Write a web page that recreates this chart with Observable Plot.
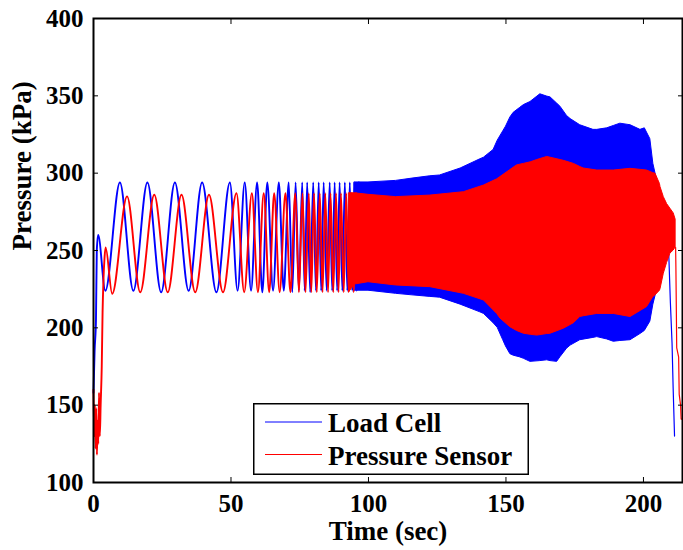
<!DOCTYPE html>
<html><head><meta charset="utf-8">
<script src="https://cdn.jsdelivr.net/npm/d3@7"></script>
<script src="https://cdn.jsdelivr.net/npm/@observablehq/plot@0.6"></script>
<style>
body{margin:0;background:#fff;}
#chart{position:relative;width:683px;height:550px;}
#legend{position:absolute;left:253px;top:403px;}
</style></head><body><div id="chart"></div>
<script>
// ---- Series names & colours ----
const seriesNames = ["Load Cell", "Pressure Sensor"];
const seriesColors = ["#0000ff", "#ff0000"];

// ---- Load Cell (blue): resolvable oscillation extrema (time s, kPa) ----
const blueTimes = [0, 0.4, 0.9, 1.2, 1.7, 4.3, 9.6, 14.5, 19.6, 24.6, 29.6, 34.6, 39.5, 44.7, 49.6, 52.4, 55.0, 57.3, 59.5, 61.4, 63.2, 65.3, 67.4, 69.2, 71.0, 72.3, 73.5, 74.7, 75.9, 76.8, 77.7, 78.8, 79.9, 80.9, 81.9, 82.8, 83.7, 84.8, 85.9, 86.8, 87.7, 88.6, 89.5, 90.5, 91.4, 92.3, 93.2, 94.1, 94.9, 95.7, 96.5];
const blueValues = [158, 185, 205, 250, 260, 224, 294, 224, 294, 223, 294, 224, 294, 223, 294, 224, 294, 224, 294, 223, 294, 224, 294, 224, 294, 223, 294, 224, 294, 224, 294, 223, 294, 224, 294, 224, 294, 224, 294, 224, 294, 224, 294, 224, 294, 224, 294, 224, 294, 224, 294];

// ---- Load Cell (blue): dense-oscillation envelope ----
const blueBandTimes = [95, 100, 110, 116, 122.5, 126, 133.5, 140.7, 142, 145.5, 147, 149, 150, 151.6, 152.8, 155, 156.5, 158.9, 162.5, 165, 166.2, 168.6, 169.8, 172.2, 173.5, 177, 181.8, 183.2, 186.8, 189.2, 191.6, 195.3, 198.9, 200.5, 202.5, 203.6, 205, 207, 209];
const blueBandUpper = [294, 294, 295, 296.5, 298, 298.5, 303, 309, 310, 315, 321, 327, 330, 336, 339, 342, 344, 346, 351, 349.5, 349, 345, 343, 337, 335, 331, 328, 328, 329, 330.5, 332, 331, 328, 329, 322, 306, 295, 280, 255];
const blueBandLower = [224, 224, 222, 221, 220, 219.5, 215, 210, 209, 203, 200, 192, 188, 183, 182, 181, 180, 178, 178.5, 179, 178.5, 178, 181, 186.5, 188.5, 192, 193.5, 194, 192.5, 191, 191.5, 192, 196, 198, 204, 215, 225, 238, 250];

// ---- Load Cell (blue): final drop ----
const blueTailTimes = [209, 209.2, 209.8, 210.4, 210.8, 211.3];
const blueTailValues = [252, 248, 216, 190, 161, 130];

// ---- Pressure Sensor (red): resolvable oscillation extrema ----
const redTimes = [0, 0.25, 0.5, 0.75, 1.0, 1.25, 1.5, 1.75, 2.0, 2.3, 2.6, 3.0, 3.3, 3.6, 4.0, 4.4, 6.8, 12.2, 17.0, 22.1, 27.0, 32.0, 37.0, 42.0, 47.1, 52.0, 54.8, 57.6, 59.8, 61.9, 63.9, 65.7, 67.7, 69.8, 71.6, 73.4, 74.7, 76.0, 77.1, 78.3, 79.2, 80.2, 81.2, 82.3, 83.3, 84.3, 85.3, 86.2, 87.2, 88.2, 89.1, 90.0, 91.0, 91.9, 92.8, 93.7, 94.6, 95.5];
const redValues = [160, 130, 150, 122, 148, 118, 140, 125, 158, 130, 150, 175, 210, 230, 245, 252, 222, 285, 223, 286, 223, 286, 223, 286, 223, 287, 223, 287, 223, 287, 223, 287, 223, 287, 223, 287, 223, 287, 223, 287, 223, 287, 223, 287, 223, 287, 223, 287, 223, 287, 223, 287, 223, 287, 223, 287, 223, 287];

// ---- Pressure Sensor (red): dense-oscillation envelope ----
const redBandTimes = [93, 95, 100, 110, 122.5, 134.7, 142, 146.8, 148, 151.6, 154, 156.5, 159, 161.4, 165, 166.2, 171, 174.7, 177, 178.3, 183.2, 189.2, 195.3, 201.3, 203.6, 204.4, 206, 206.2, 207.4, 208.6, 209.8, 211, 211.7];
const redBandUpper = [287, 287, 286, 284.5, 285.5, 287.7, 292, 296, 297.5, 302, 305, 306, 307, 308.5, 310.5, 310, 308, 306, 304, 303, 301.7, 301.7, 302.8, 301.7, 300, 299.6, 293, 291, 284.5, 280, 277, 274, 270];
const redBandLower = [223, 228, 229.5, 227.4, 226.3, 222, 217.7, 209, 206, 200.4, 198, 196.2, 195.5, 195, 196, 196.2, 199.4, 203, 207, 207.5, 209, 209, 207, 213.4, 220, 221, 224, 225, 235, 242, 248, 250, 252];

// ---- Pressure Sensor (red): final drop ----
const redTailTimes = [211.7, 211.8, 212.1, 212.8, 213.0, 213.5, 213.7, 214.2];
const redTailValues = [252, 239, 187, 181, 157, 150, 141, 141];

// ---- Axes ----
const xTicks = [0, 50, 100, 150, 200];
const yTicks = [100, 150, 200, 250, 300, 350, 400];
const xLabel = "Time (sec)";
const yLabel = "Pressure (kPa)";

const pts = (ts, vs) => ts.map((t, i) => ({t, v: vs[i]}));
const band = (ts, hi, lo) => ts.map((t, i) => ({t, hi: hi[i], lo: lo[i]}));

const blue = pts(blueTimes, blueValues);
const blueTail = pts(blueTailTimes, blueTailValues);
const blueBand = band(blueBandTimes, blueBandUpper, blueBandLower);
const red = pts(redTimes, redValues);
const redTail = pts(redTailTimes, redTailValues);
const redBand = band(redBandTimes, redBandUpper, redBandLower);

const font = "'Liberation Serif','Times New Roman',serif";

const plot = Plot.plot({
  width: 683, height: 550,
  marginLeft: 93, marginRight: 1, marginTop: 18, marginBottom: 68,
  style: {fontFamily: font, fontWeight: "bold", background: "#fff", color: "#000"},
  x: {domain: [0, 214.2]},
  y: {domain: [100, 400]},
  marks: [
    Plot.areaY(blueBand, {x: "t", y1: "lo", y2: "hi", fill: seriesColors[0], stroke: seriesColors[0], strokeWidth: 1}),
    Plot.line(blue, {x: "t", y: "v", stroke: seriesColors[0], strokeWidth: 1.9, curve: "monotone-x"}),
    Plot.line(blueTail, {x: "t", y: "v", stroke: seriesColors[0], strokeWidth: 1.2}),
    Plot.areaY(redBand, {x: "t", y1: "lo", y2: "hi", fill: seriesColors[1], stroke: seriesColors[1], strokeWidth: 1}),
    Plot.line(red, {x: "t", y: "v", stroke: seriesColors[1], strokeWidth: 1.9, curve: "monotone-x"}),
    Plot.line(redTail, {x: "t", y: "v", stroke: seriesColors[1], strokeWidth: 1.2}),
    Plot.frame({stroke: "#000", strokeWidth: 2}),
    Plot.axisX({ticks: xTicks, tickSize: -5, tickPadding: 17, fontSize: 25, label: null, tickFormat: d => String(d)}),
    Plot.axisX({anchor: "top", ticks: xTicks, tickSize: -5, tickPadding: 0, label: null, tickFormat: () => ""}),
    Plot.axisY({ticks: yTicks, tickSize: -5, tickPadding: 15, fontSize: 25, label: null, tickFormat: d => String(d)}),
    Plot.axisY({anchor: "right", ticks: yTicks, tickSize: -5, tickPadding: 0, label: null, tickFormat: () => ""}),
    Plot.text([xLabel], {text: d => d, frameAnchor: "bottom", dy: 49, fontSize: 27, lineAnchor: "middle"}),
    Plot.text([yLabel], {text: d => d, frameAnchor: "left", rotate: -90, dx: -71, fontSize: 27, lineAnchor: "middle"})
  ]
});
const chart = document.getElementById("chart");
chart.appendChild(plot);

// ---- Legend (inside plot, lower middle) ----
const lw = 276, lh = 72;
const leg = d3.select(chart).append("svg").attr("id", "legend")
  .attr("width", lw).attr("height", lh)
  .style("font-family", font).style("font-weight", "bold");
leg.append("rect").attr("x", 0.75).attr("y", 0.75).attr("width", lw - 1.5).attr("height", lh - 1.5)
  .attr("fill", "#fff").attr("stroke", "#000").attr("stroke-width", 1.5);
seriesNames.forEach((name, i) => {
  const cy = 19 + i * 32.5;
  leg.append("line").attr("x1", 12).attr("x2", 69).attr("y1", cy).attr("y2", cy)
    .attr("stroke", seriesColors[i]).attr("stroke-width", 1);
  leg.append("text").attr("x", 75).attr("y", cy + 10).attr("font-size", 27).attr("fill", "#000").text(name);
});
</script>
</body></html>
